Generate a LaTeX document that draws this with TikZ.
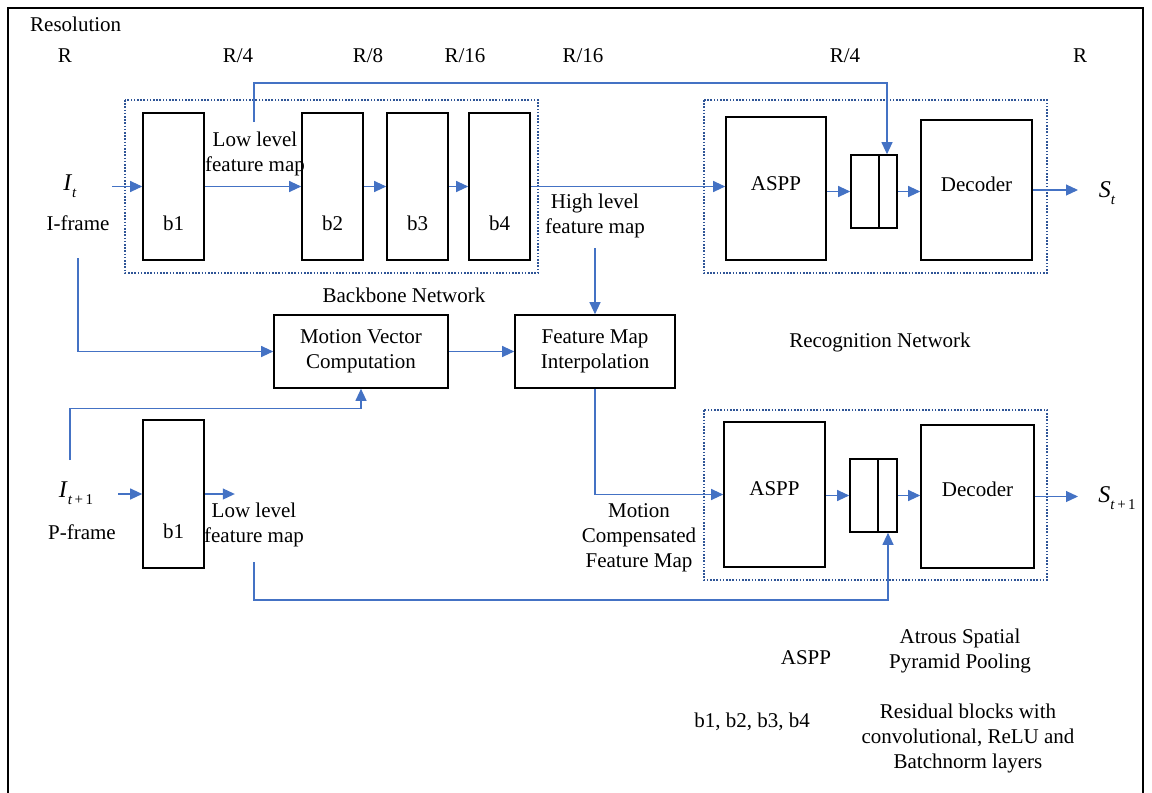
\documentclass[tikz,border=0pt]{standalone}
\usepackage{fontspec}
\setmainfont{Liberation Serif}
\usetikzlibrary{arrows.meta,calc}
\definecolor{lblue}{HTML}{4472C4}
\definecolor{dblue}{HTML}{2F5597}
\newcommand{\symb}[2]{\textit{#1}\raisebox{-0.28em}{\fontsize{15}{15}\selectfont #2}}
\tikzset{
  blk/.style={draw=black, line width=1.6pt, inner sep=0pt, fill=white},
  grp/.style={draw=dblue, line width=1.6pt, dash pattern=on 1.6pt off 1.6pt},
  arr/.style={draw=lblue, line width=1.1pt, -{Triangle[length=12pt,width=11pt]}},
  txt/.style={inner sep=0pt, font=\fontsize{21}{25}\selectfont, align=center},
  sym/.style={inner sep=0pt, font=\fontsize{24}{26}\selectfont},
}
\begin{document}
\begin{tikzpicture}[x=1pt,y=-1pt]
\useasboundingbox (0,0) rectangle (1152,793);
% frame
\draw[line width=1.6pt] (8,793) -- (8,8) -- (1143,8) -- (1143,793);
% resolution labels
\node[txt, anchor=west] (res) at (30,24) {Resolution};
\node[txt] (r1) at (65,56) {R};
\node[txt] (r2) at (238,56) {R/4};
\node[txt] (r3) at (368,56) {R/8};
\node[txt] (r4) at (465,56) {R/16};
\node[txt] (r5) at (583,56) {R/16};
\node[txt] (r6) at (845,56) {R/4};
\node[txt] (r7) at (1080,56) {R};
% group boxes
\draw[grp] (125,100) rectangle (538,273);
\draw[grp] (704,100) rectangle (1047,273);
\draw[grp] (704,410) rectangle (1047,580);
% backbone blocks
\node[blk, minimum width=61pt, minimum height=147pt] (b1) at (173.5,186.5) {};
\node[blk, minimum width=61pt, minimum height=147pt] (b2) at (332.5,186.5) {};
\node[blk, minimum width=61pt, minimum height=147pt] (b3) at (417.5,186.5) {};
\node[blk, minimum width=61pt, minimum height=147pt] (b4) at (499.5,186.5) {};
\node[txt] (b1l) at (173.5,223) {b1};
\node[txt] (b2l) at (332.5,223) {b2};
\node[txt] (b3l) at (417.5,223) {b3};
\node[txt] (b4l) at (499.5,223) {b4};
% recognition top
\node[blk, minimum width=100pt, minimum height=143pt] (aspp) at (776,188.5) {};
\node[txt] (asppl) at (776,184) {ASPP};
\node[blk, minimum width=46pt, minimum height=73pt] (cat) at (874,191.5) {};
\draw[line width=2.6pt] (879,155) -- (879,228);
\node[blk, minimum width=111pt, minimum height=140pt] (dec) at (976.5,190) {};
\node[txt] (decl) at (976.5,184) {Decoder};
% recognition bottom
\node[blk, minimum width=101pt, minimum height=145pt] (aspp2) at (774.5,494.5) {};
\node[txt] (aspp2l) at (774.5,489) {ASPP};
\node[blk, minimum width=47pt, minimum height=73pt] (cat2) at (873.5,495.5) {};
\draw[line width=2.6pt] (878,459) -- (878,532);
\node[blk, minimum width=113pt, minimum height=143pt] (dec2) at (977.5,496.5) {};
\node[txt] (dec2l) at (977.5,489) {Decoder};
% middle boxes
\node[blk, minimum width=174pt, minimum height=73pt, txt] (mvc) at (361,351.5) {Motion Vector\\Computation};
\node[blk, minimum width=160pt, minimum height=73pt, txt] (fmi) at (595,351.5) {Feature Map\\Interpolation};
% P-frame b1
\node[blk, minimum width=61pt, minimum height=148pt] (b1p) at (173.5,494) {};
\node[txt] (b1pl) at (173.5,531) {b1};
% texts
\node[sym] (it) at (70,186) {\symb{I}{\textit{t}}};
\node[txt] (ifr) at (78,223) {I-frame};
\node[sym] (itp) at (76,493) {\symb{I}{\textit{t}\,+\,1}};
\node[txt] (pfr) at (82,532) {P-frame};
\node[sym] (st) at (1107,193) {\symb{S}{\textit{t}}};
\node[sym] (stp) at (1117,498) {\symb{S}{\textit{t}\,+\,1}};
\node[txt] (ll1t) at (255,154) {Low level\\feature map};
\node[txt] (hlt) at (595,216) {High level\\feature map};
\node[txt] (ll2t) at (254,525) {Low level\\feature map};
\node[txt] (bbn) at (404,295) {Backbone Network};
\node[txt] (rcn) at (880,342) {Recognition Network};
\node[txt] (mcf) at (639,538) {Motion\\Compensated\\Feature Map};
% legend
\node[txt] (lg1) at (806,658) {ASPP};
\node[txt] (lg1d) at (960,651) {Atrous Spatial\\Pyramid Pooling};
\node[txt] (lg2) at (752,722) {b1, b2, b3, b4};
\node[txt] (lg2d) at (968,738) {Residual blocks with\\convolutional, ReLU and\\Batchnorm layers};
% coordinates
\coordinate (itin) at (112,186.5);
\coordinate (ll1) at (254,122);
\coordinate (skiptop) at (887,83);
\coordinate (hl) at (595,248);
\coordinate (ifd) at (78,258);
\coordinate (pfu) at (70,460);
\coordinate (itpin) at (118,494);
\coordinate (ll2) at (254,562);
\coordinate (skipbot) at (888,600);
\coordinate (stc) at (1078,190);
\coordinate (stpc) at (1078,496.5);
% connectors top
\draw[arr] (itin) -- (b1.west);
\draw[arr] (b1.east) -- (b2.west);
\draw[arr] (b2.east) -- (b3.west);
\draw[arr] (b3.east) -- (b4.west);
\draw[arr] (b4.east) -- (aspp.west |- b4.east);
\draw[arr] (aspp.east |- cat.west) -- (cat.west);
\draw[arr] (cat.east) -- (dec.west |- cat.east);
\draw[arr] (dec.east) -- (stc);
\draw[arr] (ll1) |- (skiptop) -- (skiptop |- cat.north);
\draw[arr] (hl) -- (fmi.north);
\draw[arr] (ifd) |- (mvc.west);
\draw[arr] (mvc.east) -- (fmi.west);
\draw[arr] (pfu) |- ($(mvc.south)+(0,20)$) -- (mvc.south);
\draw[arr] (fmi.south) |- (aspp2.west);
% connectors bottom
\draw[arr] (itpin) -- (b1p.west);
\draw[arr] (b1p.east) -- ++(30,0) coordinate (b1pout);
\draw[arr] (aspp2.east |- cat2.west) -- (cat2.west);
\draw[arr] (cat2.east) -- (dec2.west |- cat2.east);
\draw[arr] (dec2.east) -- (stpc);
\draw[arr] (ll2) |- (skipbot) -- (skipbot |- cat2.south);
\end{tikzpicture}
\end{document}
